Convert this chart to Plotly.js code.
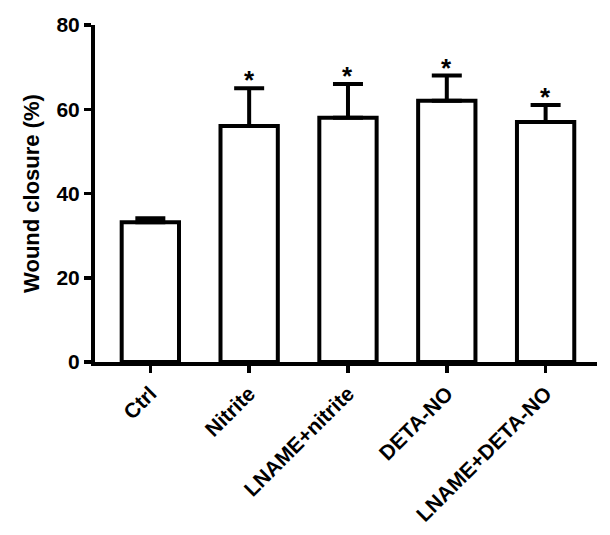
<!DOCTYPE html>
<html>
<head>
<meta charset="utf-8">
<script src="https://cdn.plot.ly/plotly-3.0.1.min.js"></script>
<style>html,body{margin:0;padding:0;background:#fff;}#chart{width:610px;height:535px;}</style>
</head>
<body>
<div id="chart"></div>
<script>
var categories = ["Ctrl", "Nitrite", "LNAME+nitrite", "DETA-NO", "LNAME+DETA-NO"];
var closure = [33.2, 56, 58, 62, 57];
var errorUp = [0.9, 9, 8, 6, 4];
var significant = ["", "*", "*", "*", "*"];
var yTicks = [0, 20, 40, 60, 80];

var idx = categories.map(function(c, i){ return i; });
var capTops = closure.map(function(v, i){ return v + errorUp[i]; });
var FONT = "Liberation Sans, Arial, Helvetica, sans-serif";

var bars = {
  type: "bar",
  x: idx,
  y: closure,
  width: 0.58,
  marker: {color: "#ffffff", line: {color: "#000000", width: 4}},
  error_y: {type: "data", symmetric: false, array: errorUp, arrayminus: closure.map(function(){return 0;}),
            color: "#000000", thickness: 4, width: 15, visible: true},
  hoverinfo: "skip",
  showlegend: false
};

var annotations = [];
idx.forEach(function(i){
  if (significant[i]) {
    annotations.push({
      x: i, y: capTops[i], xref: "x", yref: "y",
      text: significant[i], showarrow: false,
      yanchor: "middle", xanchor: "center", yshift: 8,
      font: {family: FONT, size: 26, color: "#000000", weight: "bold"}
    });
  }
});

var layout = {
  width: 610,
  height: 535,
  margin: {l: 95, r: 13, t: 25, b: 173},
  paper_bgcolor: "#ffffff",
  plot_bgcolor: "#ffffff",
  showlegend: false,
  font: {family: FONT, color: "#000000"},
  annotations: annotations,
  xaxis: {
    range: [-0.56, 4.52],
    tickmode: "array",
    tickvals: idx,
    ticktext: categories,
    tickangle: -45,
    tickfont: {family: FONT, size: 21, weight: "bold", color: "#000000"},
    ticks: "outside",
    ticklen: 7,
    tickwidth: 3.5,
    tickcolor: "#000000",
    showline: true,
    linewidth: 4,
    linecolor: "#000000",
    showgrid: false,
    zeroline: false,
    automargin: false,
    fixedrange: true
  },
  yaxis: {
    range: [0, 80],
    tickmode: "array",
    tickvals: yTicks,
    ticktext: yTicks.map(String),
    tickfont: {family: FONT, size: 21, weight: "bold", color: "#000000"},
    ticks: "outside",
    ticklen: 7,
    tickwidth: 3.5,
    tickcolor: "#000000",
    ticklabelstandoff: 0,
    showline: true,
    linewidth: 4,
    linecolor: "#000000",
    showgrid: false,
    zeroline: false,
    automargin: false,
    fixedrange: true,
    title: {text: "Wound closure (%)", font: {family: FONT, size: 22, weight: "bold", color: "#000000"}, standoff: 12}
  }
};

Plotly.newPlot("chart", [bars], layout, {displayModeBar: false, staticPlot: true});
</script>
</body>
</html>
